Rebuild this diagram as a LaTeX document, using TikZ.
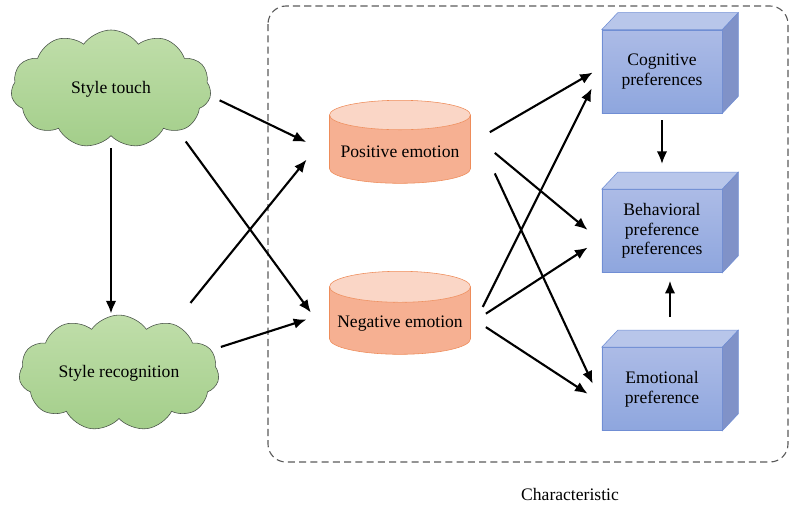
\documentclass[tikz,border=0pt]{standalone}
\usepackage{fontspec}
\setmainfont{Liberation Serif}
\usetikzlibrary{shapes.symbols,shapes.geometric,arrows.meta}

\definecolor{cloudtop}{RGB}{192,222,170}
\definecolor{cloudbot}{RGB}{163,206,138}
\definecolor{cloudline}{RGB}{70,80,70}
\definecolor{cylbody}{RGB}{246,176,146}
\definecolor{cyltop}{RGB}{250,214,198}
\definecolor{cylline}{RGB}{238,140,90}
\definecolor{cubetop}{RGB}{172,187,230}
\definecolor{cubebot}{RGB}{142,166,222}
\definecolor{cubelid}{RGB}{184,198,234}
\definecolor{cubeside}{RGB}{128,146,200}
\definecolor{cubeline}{RGB}{112,142,212}
\definecolor{frameline}{RGB}{90,90,90}

\begin{document}
\begin{tikzpicture}[x=0.025cm, y=-0.025cm,
    font=\fontsize{12.5}{14}\selectfont,
    cloudy/.style={cloud, cloud puffs=11, cloud puff arc=110, aspect=1.8, draw=cloudline,
        top color=cloudtop, bottom color=cloudbot, minimum width=5cm, minimum height=2.95cm, inner sep=0pt},
    drum/.style={cylinder, shape border rotate=90, aspect=0.23, draw=cylline, anchor=north,
        cylinder uses custom fill, cylinder body fill=cylbody, cylinder end fill=cyltop,
        minimum width=3.525cm, minimum height=2.075cm},
    cubebox/.style={rectangle, draw=cubeline, top color=cubetop, bottom color=cubebot,
        minimum width=3cm, minimum height=2.075cm, align=center, inner sep=0pt},
    arr/.style={-{Latex[length=9pt,width=7.5pt]}, line width=1.5pt}]
    \useasboundingbox (0,0) rectangle (790,507);

    \draw[draw=frameline, line width=0.8pt, dash pattern=on 5pt off 3pt, rounded corners=0.45cm] (268,6) rectangle (788,462);

    \node[cloudy] (touch) at (111,89) {Style touch};
    \node[cloudy, minimum height=2.75cm] (recog) at (119,373) {Style recognition};

    \node[drum] (pos) at (400,100) {Positive emotion};
    \node[drum] (neg) at (400,271) {Negative emotion};

    \node[cubebox] (cog) at (662,71.5) {Cognitive\\preferences};
    \node[cubebox] (beh) at (662,231) {Behavioral\\preference\\preferences};
    \node[cubebox] (emo) at (662,389) {Emotional\\preference};
    \foreach \n in {cog,beh,emo} {
        \filldraw[draw=cubeline, fill=cubelid] (\n.north west) -- ++(16,-17) -- ([shift={(16,-17)}]\n.north east) -- (\n.north east) -- cycle;
        \filldraw[draw=cubeline, fill=cubeside] (\n.north east) -- ++(16,-17) -- ([shift={(16,-17)}]\n.south east) -- (\n.south east) -- cycle;
    }

    \node (chr) at (570,494) {Characteristic};

    % left part
    \draw[arr, shorten <=0.3cm, shorten >=0.03cm] (touch.south) -- (touch.south |- recog.north);
    \draw[arr, shorten <=0.25cm, shorten >=0.64cm] (touch.-4) -- (pos.181);
    \draw[arr, shorten <=0.33cm, shorten >=1cm] (touch.-32) -- (neg.198);
    \draw[arr, shorten <=0.68cm, shorten >=0.9cm] (recog.42) -- (pos.164);
    \draw[arr, shorten <=0.25cm, shorten >=0.6cm] (recog.14) -- (neg.171);

    % right part
    \draw[arr, shorten <=0.55cm, shorten >=0.26cm] (pos.7) -- (cog.176);
    \draw[arr, shorten <=0.78cm, shorten >=0.46cm] (pos.15) -- (beh.190);
    \draw[arr, shorten <=1.42cm, shorten >=0.53cm] (pos.23) -- (emo.193);
    \draw[arr, shorten <=0.67cm, shorten >=0.56cm] (neg.-6) -- (cog.177);
    \draw[arr, shorten <=0.45cm, shorten >=0.42cm] (neg.0) -- (beh.187);
    \draw[arr, shorten <=0.45cm, shorten >=0.42cm] (neg.5) -- (emo.193);
    \draw[arr, shorten <=0.175cm, shorten >=0.63cm] (cog.south) -- (beh.north);
    \draw[arr, shorten <=0.75cm, shorten >=0.2cm] ([xshift=0.2cm]emo.north) -- ([xshift=0.2cm]beh.south);
\end{tikzpicture}
\end{document}
